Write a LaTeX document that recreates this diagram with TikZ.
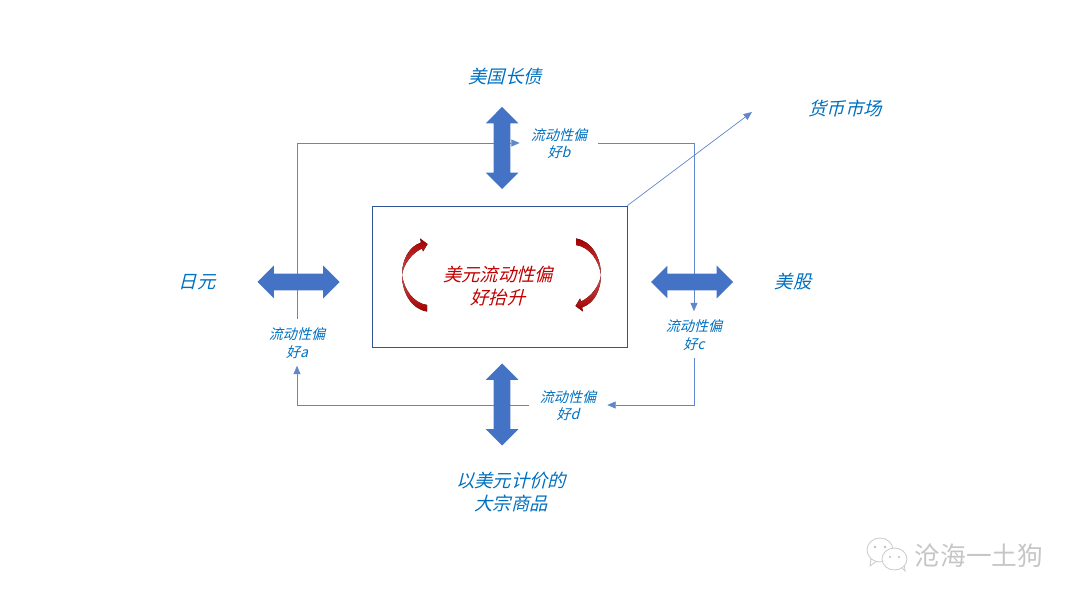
\documentclass[tikz,border=0pt]{standalone}
\usepackage{fontspec}
\usepackage{xcolor}
\usetikzlibrary{arrows.meta,shapes.arrows}
\newfontfamily\cjk[FakeSlant=0.25]{Noto Sans CJK SC}
\newfontfamily\cjkmark{Noto Sans CJK SC}
\definecolor{textblue}{HTML}{0070C0}
\definecolor{arrowblue}{HTML}{4472C4}
\definecolor{boxblue}{HTML}{2F5597}
\definecolor{darkred}{HTML}{C00000}
\newcommand{\crescent}{(427,311.5).. controls (411,309) and (402,292) ..(402,275).. controls (402,261) and (408,247) ..(421,242.5)--(420,238.5)--(427.5,244)--(423,251.5)--(422,248.5).. controls (412,253) and (403.5,264) ..(402,275).. controls (404,289) and (413,303) ..(427,305)--cycle}
\tikzset{
    market/.style={font=\cjk\fontsize{13}{16.5}\selectfont,text=textblue,align=center},
    bias/.style={font=\cjk\fontsize{10}{12.5}\selectfont,text=textblue,align=center,minimum width=19.5mm,minimum height=11.5mm,text height=21.9pt,inner sep=0pt},
    link/.style={draw=arrowblue!85,line width=0.5pt,-{Triangle[length=6pt,width=5pt]}},
    flow/.style={double arrow,fill=arrowblue,draw=none,minimum height=20.5mm,inner xsep=0pt,inner ysep=2mm,double arrow head extend=2mm},
    centre/.style={draw=boxblue,line width=0.6pt,minimum width=63.75mm,minimum height=35.25mm},
    swirl/.style={top color=darkred!85!black,bottom color=darkred!85!black,middle color=darkred!70!white,draw=none},
    bubble/.style={draw=gray!40,fill=white,line width=0.6pt}
}
\begin{document}
\begin{tikzpicture}[x=0.25mm,y=-0.25mm]
    \useasboundingbox(0,0)rectangle(1080,603);
    \node[centre](usd)at(499.5,276.5){};
    \node[bias](a)at(297,342.5){流动性偏\\好a};
    \node[bias](b)at(559,143){流动性偏\\好b};
    \node[bias](c)at(694,334.5){流动性偏\\好c};
    \node[bias](d)at(568,405){流动性偏\\好d};
    \node[market](bond)at(505,77){美国长债};
    \node[market](yen)at(197,282){日元};
    \node[market](stock)at(793,282){美股};
    \node[market](comm)at(511,492){以美元计价的\\大宗商品};
    \node[market](mm)at(845,108){货币市场};
    \coordinate(mmend)at(752,112);
    \draw[link](a)|-(b);
    \draw[link](b)-|(c);
    \draw[link](c)|-(d);
    \draw[link](d)-|(a);
    \draw[link](usd.north east)--(mmend);
    \node[flow,rotate=90](fbond)at(502,148){};
    \node[flow](fyen)at(298.5,282){};
    \node[flow](fstock)at(692,282){};
    \node[flow,rotate=90](fcomm)at(502,404.5){};
    \node[font=\cjk\fontsize{13}{16.5}\selectfont,text=darkred,align=center](rise)at(498,286){美元流动性偏\\好抬升};
    \fill[swirl]\crescent;
    \begin{scope}[rotate around={180:(501.5,275)}]
        \fill[swirl]\crescent;
    \end{scope}
    \fill[bubble](871,559)--(870,566)--(877,561)--cycle;
    \draw[bubble](880,550)ellipse(13 and 12);
    \fill[bubble](900,566)--(905,571)--(904,562)--cycle;
    \draw[bubble](894.5,559)ellipse(12.5 and 11);
    \fill[gray!50](875,547)circle(1.3)(885,547)circle(1.3)(890,557)circle(1.2)(899,557)circle(1.2);
    \node[font=\cjkmark\fontsize{18.3}{20}\selectfont,text=gray!45](mark)at(979,556){沧海一土狗};
\end{tikzpicture}
\end{document}
